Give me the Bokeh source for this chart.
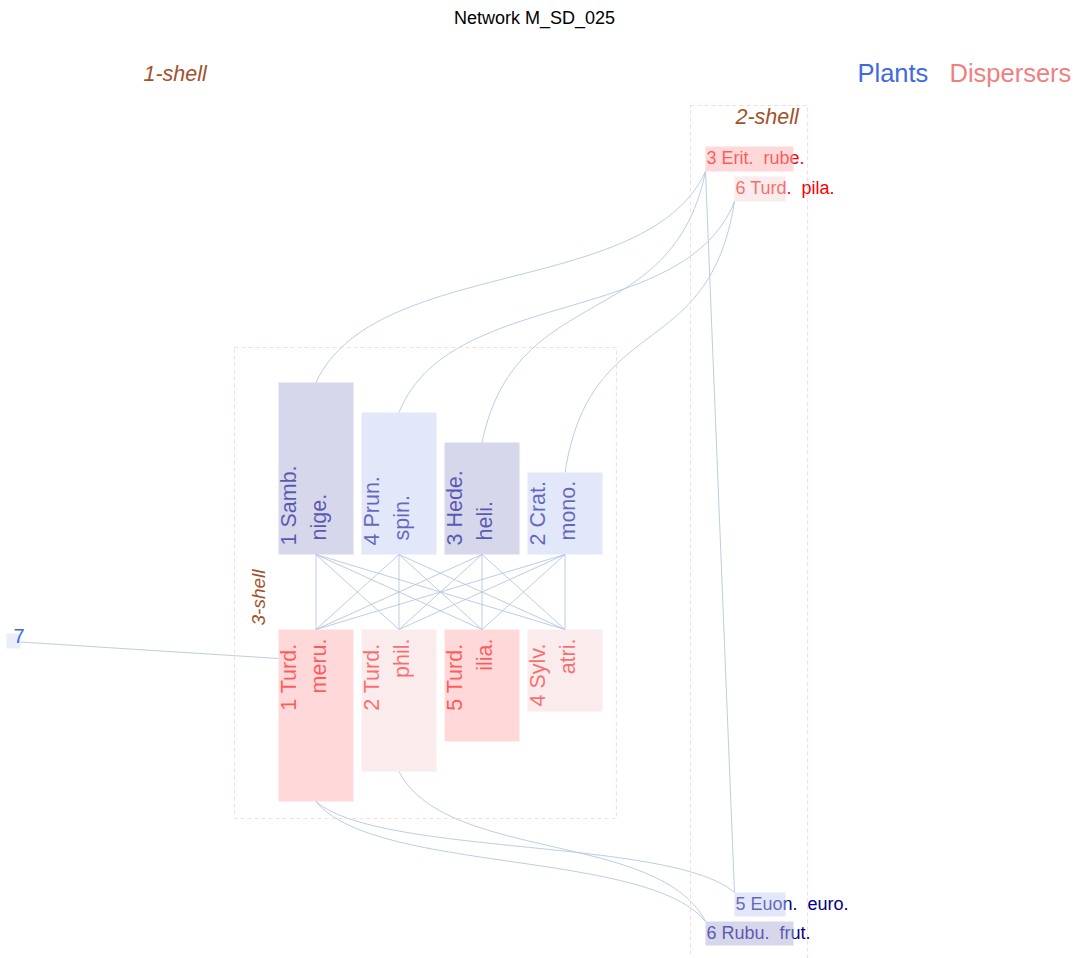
import numpy as np
from bokeh.plotting import figure
from bokeh.models import Range1d
from bokeh.core.properties import value
from bokeh.embed import file_html
from bokeh.resources import INLINE

# ---------------- data ----------------
chart_title = "Network M_SD_025"
plant_ids = [1, 2, 3, 4, 5, 6, 7]
plant_genus = ["1 Samb.", "2 Crat.", "3 Hede.", "4 Prun.", "5 Euon.", "6 Rubu.", "7"]
plant_species = ["nige.", "mono.", "heli.", "spin.", "euro.", "frut.", ""]
plant_shell = [3, 3, 3, 3, 2, 2, 1]

disp_ids = [1, 2, 3, 4, 5, 6]
disp_genus = ["1 Turd.", "2 Turd.", "3 Erit.", "4 Sylv.", "5 Turd.", "6 Turd."]
disp_species = ["meru.", "phil.", "rube.", "atri.", "ilia.", "pila."]
disp_shell = [3, 3, 2, 3, 3, 2]

# interactions (plant id, disperser id)
link_plant = [1, 1, 1, 1, 4, 4, 4, 4, 3, 3, 3, 3, 2, 2, 2, 2,
              1, 4, 3, 2, 5, 5, 6, 6, 7]
link_disp = [1, 2, 5, 4, 1, 2, 5, 4, 1, 2, 5, 4, 1, 2, 5, 4,
             3, 6, 3, 6, 3, 1, 1, 2, 1]

# order of nodes inside each shell
inner_plant_order = [1, 4, 3, 2]
inner_disp_order = [1, 2, 5, 4]
shell2_disp_order = [3, 6]
shell2_plant_order = [5, 6]

shell_names = ["1-shell", "2-shell", "3-shell"]
legend_names = ["Plants", "Dispersers"]

# ---------------- layout ----------------
FONT = value("Liberation Sans")
W, H = 1077, 958
p = figure(width=W, height=H, x_range=Range1d(0, W), y_range=Range1d(H, 0),
           output_backend="svg", toolbar_location=None, min_border=0)
p.axis.visible = False
p.grid.visible = False
p.outline_line_color = None
p.background_fill_color = "white"

PL_DARK, PL_LIGHT = "#B0B0DA", "#C6D0F4"
DI_DARK, DI_LIGHT = "#FFB4B4", "#F6DADA"
PL_TEXT, DI_TEXT = "#00008B", "#FF0000"
SHELL_COL = "#A0522D"
LINK_COL = "#B0C4DE"

boxes = {}  # (kind, id) -> (left, right, top, bottom)
x0, step, bw = 278, 83, 75
h0, dh = 172, 30
plant_bottom, disp_top = 554, 629
for i, pid in enumerate(inner_plant_order):
    l = x0 + i * step
    boxes[("p", pid)] = (l, l + bw, plant_bottom - (h0 - dh * i), plant_bottom)
for i, did in enumerate(inner_disp_order):
    l = x0 + i * step
    boxes[("d", did)] = (l, l + bw, disp_top, disp_top + (h0 - dh * i))

s2_left, s2_stag = 705, 29
wide, narrow, bh = 88, 51, 25
for i, did in enumerate(shell2_disp_order):
    l = s2_left + (s2_stag if i % 2 else 0)
    w = narrow if i % 2 else wide
    t = 146 + i * 30
    boxes[("d", did)] = (l, l + w, t, t + bh)
for i, pid in enumerate(shell2_plant_order):
    l = s2_left + (0 if i % 2 else s2_stag)
    w = wide if i % 2 else narrow
    t = 892 + i * 29
    boxes[("p", pid)] = (l, l + w, t, t + 24)
boxes[("p", 7)] = (6, 20, 633, 648)

shell_of_p = dict(zip(plant_ids, plant_shell))
shell_of_d = dict(zip(disp_ids, disp_shell))


def bezier(a, b, alpha=0.15, beta=0.6, n=60):
    (xa, ya), (xb, yb) = a, b
    dx, dy = xb - xa, yb - ya
    P = np.array([[xa, ya], [xa + alpha * dx, ya + beta * dy],
                  [xb - alpha * dx, yb - beta * dy], [xb, yb]])
    t = np.linspace(0, 1, n)[:, None]
    pts = ((1 - t) ** 3) * P[0] + 3 * ((1 - t) ** 2) * t * P[1] + 3 * (1 - t) * t ** 2 * P[2] + t ** 3 * P[3]
    return list(pts[:, 0]), list(pts[:, 1])


xs, ys = [], []
for pid, did in zip(link_plant, link_disp):
    pl, pr, pt, pb = boxes[("p", pid)]
    dl, dr, dt, db = boxes[("d", did)]
    sp, sd = shell_of_p[pid], shell_of_d[did]
    if sp == 3 and sd == 3:
        xs.append([(pl + pr) / 2, (dl + dr) / 2]); ys.append([pb, dt])
    elif sp == 3 and sd == 2:
        cx, cy = bezier(((pl + pr) / 2, pt), (dl, db))
        xs.append(cx); ys.append(cy)
    elif sp == 2 and sd == 3:
        cx, cy = bezier(((dl + dr) / 2, db), (pl, pt))
        xs.append(cx); ys.append(cy)
    elif sp == 2 and sd == 2:
        xs.append([dl, pl]); ys.append([db, pt])
    else:
        xs.append([pr, dl]); ys.append([(pt + pb) / 2 + 1, dt + 29])
p.multi_line(xs, ys, line_color=LINK_COL, line_alpha=0.85, line_width=1)

# shell frames
p.quad(left=[234, 690], right=[616, 807], top=[347, 105], bottom=[818, 990],
       fill_color=None, line_color="#F0D4D4", line_dash="4 3", line_width=0.8)

# node texts (drawn under translucent boxes)
pidx = {pid: i for i, pid in enumerate(plant_ids)}
didx = {did: i for i, did in enumerate(disp_ids)}
VS = "21.5px"
for kind, order, genus, species, idx, col in [
        ("p", inner_plant_order, plant_genus, plant_species, pidx, PL_TEXT),
        ("d", inner_disp_order, disp_genus, disp_species, didx, DI_TEXT)]:
    for pid in order:
        l, r, t, b = boxes[(kind, pid)]
        i = idx[pid]
        if kind == "p":
            p.text([l + 10], [b - 9], [genus[i]], angle=np.pi / 2, text_align="left",
                   text_baseline="alphabetic", text_font=FONT, text_font_size=VS, text_color=col)
            p.text([l + 40], [b - 14], [species[i]], angle=np.pi / 2, text_align="left",
                   text_baseline="alphabetic", text_font=FONT, text_font_size=VS, text_color=col)
        else:
            p.text([l + 10], [t + 14], [genus[i]], angle=np.pi / 2, text_align="right",
                   text_baseline="alphabetic", text_font=FONT, text_font_size=VS, text_color=col)
            p.text([l + 40], [t + 9], [species[i]], angle=np.pi / 2, text_align="right",
                   text_baseline="alphabetic", text_font=FONT, text_font_size=VS, text_color=col)

NBSP = "\u00a0"
for kind, order, genus, species, idx, col in [
        ("d", shell2_disp_order, disp_genus, disp_species, didx, DI_TEXT),
        ("p", shell2_plant_order, plant_genus, plant_species, pidx, PL_TEXT)]:
    for nid in order:
        l, r, t, b = boxes[(kind, nid)]
        i = idx[nid]
        p.text([l + 1], [t + 11], [genus[i] + " " + NBSP + species[i]], text_align="left",
               text_baseline="alphabetic", text_font=FONT, text_font_size="18px", text_color=col)

# boxes
for kind, order, dark, light in [("p", inner_plant_order, PL_DARK, PL_LIGHT),
                                 ("d", inner_disp_order, DI_DARK, DI_LIGHT),
                                 ("d", shell2_disp_order, DI_DARK, DI_LIGHT),
                                 ("p", shell2_plant_order, PL_LIGHT, PL_DARK)]:
    L, R, T, B, C = [], [], [], [], []
    for i, nid in enumerate(order):
        l, r, t, b = boxes[(kind, nid)]
        L.append(l); R.append(r); T.append(t); B.append(b)
        C.append(dark if i % 2 == 0 else light)
    p.quad(left=L, right=R, top=T, bottom=B, fill_color=C, fill_alpha=0.5, line_color=None)

# 1-shell node 7
l, r, t, b = boxes[("p", 7)]
p.quad(left=[l], right=[r], top=[t], bottom=[b], fill_color="#D6DDF8", fill_alpha=0.5, line_color=None)
p.text([l + 7], [b - 13], [plant_genus[pidx[7]]], text_align="left", text_baseline="alphabetic",
       text_font=FONT, text_font_size="20px", text_color="#4169E1")

# shell labels
p.text([143], [73], [shell_names[0]], text_font=FONT, text_font_size="21.5px",
       text_font_style="italic", text_color=SHELL_COL, text_baseline="alphabetic")
p.text([735], [116], [shell_names[1]], text_font=FONT, text_font_size="21.5px",
       text_font_style="italic", text_color=SHELL_COL, text_baseline="alphabetic")
p.text([258], [597], [shell_names[2]], angle=np.pi / 2, text_align="center", text_font=FONT,
       text_font_size="19px", text_font_style="italic", text_color=SHELL_COL,
       text_baseline="alphabetic")

# legend words and title
p.text([857], [72], [legend_names[0]], text_font=FONT, text_font_size="25.5px",
       text_color="#4169E1", text_baseline="alphabetic")
p.text([949], [72], [legend_names[1]], text_font=FONT, text_font_size="25.5px",
       text_color="#F08080", text_baseline="alphabetic")
p.text([534], [17], [chart_title], text_font=FONT, text_font_size="18px",
       text_color="black", text_align="center", text_baseline="alphabetic")

open("out.html", "w").write(file_html(p, INLINE))
